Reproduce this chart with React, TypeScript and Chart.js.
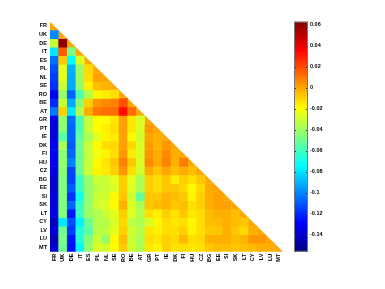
import React, { useEffect, useRef } from "react";
import { Chart, registerables } from "chart.js";

Chart.register(...registerables);

const countries = [
  "FR", "UK", "DE", "IT", "ES", "PL", "NL", "SE", "RO", "BE", "AT", "GR", "PT", "IE",
  "DK", "FI", "HU", "CZ", "BG", "EE", "SI", "SK", "LT", "CY", "LV", "LU", "MT",
];

// lower-triangular matrix: row i holds values for columns 0..i-1
const corrRows: number[][] = [
  [],
  [-0.099],
  [-0.031, 0.06],
  [-0.079, 0.016, -0.048],
  [-0.105, -0.007, -0.074, -0.027],
  [-0.112, -0.025, -0.09, -0.04, -0.011],
  [-0.116, -0.025, -0.092, -0.04, -0.012, 0.001],
  [-0.118, -0.031, -0.092, -0.042, -0.016, -0.005, -0.003],
  [-0.132, -0.042, -0.107, -0.057, -0.035, -0.017, -0.016, -0.012],
  [-0.12, -0.031, -0.092, -0.044, -0.009, 0.003, 0.006, 0.008, 0.018],
  [-0.103, -0.009, -0.079, -0.035, -0.001, 0.01, 0.012, 0.012, 0.033, 0.012],
  [-0.134, -0.042, -0.105, -0.057, -0.031, -0.019, -0.019, -0.014, 0.001, -0.014, -0.027],
  [-0.136, -0.044, -0.107, -0.057, -0.031, -0.019, -0.016, -0.012, 0.001, -0.014, -0.027, 0.003],
  [-0.136, -0.055, -0.107, -0.053, -0.037, -0.025, -0.017, -0.015, 0.001, -0.018, -0.029, 0.0, -0.002],
  [-0.131, -0.037, -0.109, -0.05, -0.031, -0.018, -0.012, -0.011, 0.001, -0.011, -0.027, 0.002, -0.003, 0.003],
  [-0.131, -0.044, -0.107, -0.05, -0.031, -0.022, -0.017, -0.012, 0.003, -0.015, -0.027, 0.003, -0.001, 0.006, -0.001],
  [-0.13, -0.042, -0.101, -0.05, -0.031, -0.018, -0.014, -0.007, 0.008, -0.007, -0.027, 0.006, -0.001, 0.008, -0.002, 0.009],
  [-0.134, -0.044, -0.114, -0.05, -0.031, -0.017, -0.015, -0.009, 0.003, -0.012, -0.029, -0.001, -0.007, 0.0, -0.005, -0.002, -0.005],
  [-0.138, -0.046, -0.114, -0.061, -0.042, -0.031, -0.031, -0.025, -0.009, -0.025, -0.037, -0.009, -0.012, -0.007, -0.015, -0.009, -0.013, -0.007],
  [-0.138, -0.046, -0.109, -0.061, -0.042, -0.033, -0.031, -0.027, -0.009, -0.027, -0.037, -0.009, -0.012, -0.007, -0.007, -0.011, -0.018, -0.011, -0.001],
  [-0.135, -0.046, -0.118, -0.07, -0.042, -0.031, -0.029, -0.018, -0.007, -0.029, -0.053, -0.007, -0.007, -0.003, -0.005, -0.007, -0.017, -0.009, -0.001, 0.001],
  [-0.136, -0.046, -0.107, -0.061, -0.042, -0.029, -0.027, -0.018, -0.002, -0.027, -0.037, -0.007, -0.005, -0.003, -0.007, -0.005, -0.013, -0.009, -0.002, 0.001, 0.001],
  [-0.134, -0.046, -0.124, -0.061, -0.04, -0.037, -0.031, -0.025, -0.009, -0.027, -0.035, -0.012, -0.016, -0.009, -0.013, -0.007, -0.014, -0.012, -0.005, -0.002, -0.002, -0.005],
  [-0.143, -0.078, -0.112, -0.076, -0.05, -0.035, -0.035, -0.027, -0.011, -0.033, -0.037, -0.027, -0.018, -0.012, -0.014, -0.012, -0.018, -0.012, -0.005, -0.005, -0.002, -0.005, -0.007],
  [-0.137, -0.05, -0.116, -0.065, -0.055, -0.035, -0.033, -0.025, -0.009, -0.029, -0.035, -0.014, -0.016, -0.012, -0.012, -0.009, -0.017, -0.012, -0.007, -0.007, -0.002, -0.007, -0.011, -0.002],
  [-0.144, -0.048, -0.124, -0.065, -0.046, -0.031, -0.042, -0.018, -0.005, -0.031, -0.037, -0.012, -0.014, -0.009, -0.011, -0.004, -0.012, -0.011, -0.002, -0.002, -0.002, -0.005, -0.003, 0.003, 0.003],
  [-0.138, -0.05, -0.126, -0.075, -0.042, -0.027, -0.029, -0.02, -0.008, -0.029, -0.037, -0.014, -0.017, -0.009, -0.013, -0.012, -0.014, -0.012, -0.007, -0.005, -0.005, -0.007, -0.006, -0.004, -0.002, -0.002],
];

const diagonalValue = 0;
const colorMin = -0.156;
const colorMax = 0.063;
const colorbarTicks = [-0.14, -0.12, -0.1, -0.08, -0.06, -0.04, -0.02, 0, 0.02, 0.04, 0.06];
const colorbarTickLabels = ["-0.14", "-0.12", "-0.1", "-0.08", "-0.06", "-0.04", "-0.02", "0", "0.02", "0.04", "0.06"];

const FONT = "'Liberation Sans', Arial, sans-serif";

function clamp01(v: number) {
  return Math.max(0, Math.min(1, v));
}
function jetRGB(t: number): [number, number, number] {
  const r = clamp01(1.5 - Math.abs(4 * t - 3));
  const g = clamp01(1.5 - Math.abs(4 * t - 2));
  const b = clamp01(1.5 - Math.abs(4 * t - 1));
  return [Math.round(r * 255), Math.round(g * 255), Math.round(b * 255)];
}
function jetColor(v: number) {
  const t = clamp01((v - colorMin) / (colorMax - colorMin));
  const [r, g, b] = jetRGB(t);
  return `rgb(${r},${g},${b})`;
}

const diagonalPlugin = {
  id: "diagonalCells",
  afterDatasetsDraw(chart: any) {
    const x = chart.scales.x;
    const y = chart.scales.y;
    const ctx = chart.ctx;
    const half = (x.getPixelForValue(1) - x.getPixelForValue(0)) / 2;
    ctx.save();
    ctx.fillStyle = jetColor(diagonalValue);
    countries.forEach((_, i) => {
      const cx = x.getPixelForValue(i);
      const top = y.getPixelForValue(i - 0.5);
      const bot = y.getPixelForValue(i + 0.5);
      ctx.beginPath();
      ctx.moveTo(cx - half, top);
      ctx.lineTo(cx - half, bot);
      ctx.lineTo(cx + half, bot);
      ctx.closePath();
      ctx.fill();
    });
    ctx.restore();
  },
};

const colorbarPlugin = {
  id: "colorbarFill",
  beforeDatasetsDraw(chart: any) {
    const { ctx, chartArea } = chart;
    const y = chart.scales.y;
    const stops: [number, [number, number, number]][] = [0, 0.125, 0.375, 0.625, 0.875, 1].map((t) => [t, jetRGB(t)]);
    const yBottom = y.getPixelForValue(colorMin);
    const yTop = y.getPixelForValue(colorMax);
    const grad = ctx.createLinearGradient(0, yBottom, 0, yTop);
    stops.forEach(([t, c]) => grad.addColorStop(t, `rgb(${c[0]},${c[1]},${c[2]})`));
    ctx.save();
    ctx.fillStyle = grad;
    ctx.fillRect(chartArea.left, yTop, chartArea.right - chartArea.left, yBottom - yTop);
    ctx.strokeStyle = "#333";
    ctx.lineWidth = 1;
    colorbarTicks.forEach((v) => {
      const py = Math.round(y.getPixelForValue(v)) + 0.5;
      ctx.beginPath();
      ctx.moveTo(chartArea.left, py);
      ctx.lineTo(chartArea.left + 2, py);
      ctx.moveTo(chartArea.right - 2, py);
      ctx.lineTo(chartArea.right, py);
      ctx.stroke();
    });
    ctx.strokeStyle = "#777";
    ctx.strokeRect(chartArea.left + 0.5, yTop + 0.5, chartArea.right - chartArea.left - 1, yBottom - yTop - 1);
    ctx.restore();
  },
};

export default function App() {
  const heatRef = useRef<HTMLCanvasElement | null>(null);
  const barRef = useRef<HTMLCanvasElement | null>(null);

  useEffect(() => {
    if (!heatRef.current || !barRef.current) return;

    const datasets = corrRows
      .map((row, i) => ({
        label: countries[i],
        data: row.map((v, j) => ({ x: countries[j], y: [i - 0.5, i + 0.5], v })),
        backgroundColor: (c: any) => (c.raw ? jetColor(c.raw.v) : "#000"),
        borderWidth: 0,
        grouped: false,
        barPercentage: 1,
        categoryPercentage: 1,
      }))
      .filter((d) => d.data.length > 0);

    const heat = new Chart(heatRef.current, {
      type: "bar",
      data: { labels: countries, datasets: datasets as any },
      options: {
        animation: false,
        responsive: false,
        devicePixelRatio: 1,
        layout: { padding: { left: 0, top: 21.7, right: 102, bottom: 0 } },
        plugins: { legend: { display: false }, tooltip: { enabled: false } },
        scales: {
          x: {
            type: "category",
            grid: { display: false, drawTicks: false },
            border: { display: false },
            ticks: {
              autoSkip: false,
              minRotation: 90,
              maxRotation: 90,
              padding: 2,
              color: "#000",
              font: { family: FONT, size: 5.5, weight: "bold" },
            },
            afterFit: (s: any) => {
              s.height = 37.3;
            },
          },
          y: {
            type: "linear",
            reverse: true,
            min: -0.5,
            max: 26.5,
            grid: { display: false, drawTicks: false },
            border: { display: false },
            afterBuildTicks: (s: any) => {
              s.ticks = countries.map((_, i) => ({ value: i }));
            },
            ticks: {
              autoSkip: false,
              padding: 3,
              color: "#000",
              font: { family: FONT, size: 5.5, weight: "bold" },
              callback: (v: any) => countries[Math.round(Number(v))] ?? "",
            },
            afterFit: (s: any) => {
              s.width = 50;
            },
          },
        },
      },
      plugins: [diagonalPlugin],
    });

    const bar = new Chart(barRef.current, {
      type: "bar",
      data: { labels: [""], datasets: [] },
      options: {
        animation: false,
        responsive: false,
        devicePixelRatio: 1,
        layout: { padding: { left: 294, top: 21.7, right: 0, bottom: 37.3 } },
        plugins: { legend: { display: false }, tooltip: { enabled: false } },
        scales: {
          x: { display: false },
          y: {
            type: "linear",
            position: "right",
            min: colorMin,
            max: colorMax,
            grid: { display: false, drawTicks: false },
            border: { display: false },
            afterBuildTicks: (s: any) => {
              s.ticks = colorbarTicks.map((v) => ({ value: v }));
            },
            ticks: {
              padding: 2,
              color: "#000",
              font: { family: FONT, size: 5.5, weight: "bold" },
              callback: (v: any) => {
                const idx = colorbarTicks.findIndex((t) => Math.abs(t - Number(v)) < 1e-9);
                return idx >= 0 ? colorbarTickLabels[idx] : "";
              },
            },
            afterFit: (s: any) => {
              s.width = 77;
            },
          },
        },
      },
      plugins: [colorbarPlugin],
    });

    return () => {
      heat.destroy();
      bar.destroy();
    };
  }, []);

  return (
    <div style={{ position: "fixed", left: 0, top: 0, width: 385, height: 289, background: "#fff" }}>
      <canvas ref={heatRef} width={385} height={289} style={{ position: "absolute", left: 0, top: 0, width: 385, height: 289 }} />
      <canvas ref={barRef} width={385} height={289} style={{ position: "absolute", left: 0, top: 0, width: 385, height: 289 }} />
    </div>
  );
}
